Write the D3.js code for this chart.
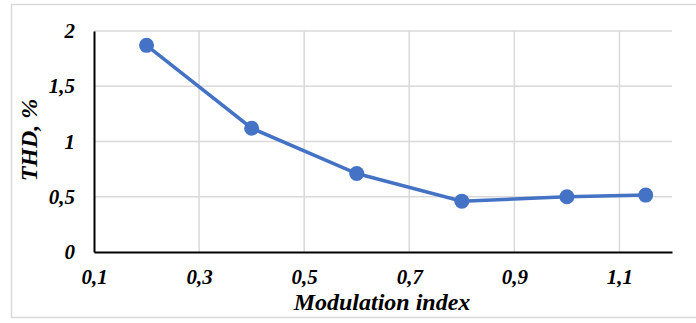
<!DOCTYPE html>
<html>
<head>
<meta charset="utf-8">
<script src="https://cdn.jsdelivr.net/npm/d3@7"></script>
<style>
  body { margin: 0; background: #fff; }
  svg text { font-family: "Liberation Serif", "Times New Roman", serif; font-weight: bold; font-style: italic; }
</style>
</head>
<body>
<div id="chart"></div>
<script>
// data
var modIndex = [0.2, 0.4, 0.6, 0.8, 1.0, 1.15]
var thd = [1.87, 1.12, 0.71, 0.46, 0.50, 0.515]
var xTicks = [0.1, 0.3, 0.5, 0.7, 0.9, 1.1]
var yTicks = [0, 0.5, 1, 1.5, 2]

var dims = {
    width: 696,
    height: 323,
    margin: {top: 31, right: 24, bottom: 71, left: 94}
}
var plotW = dims.width - dims.margin.left - dims.margin.right
var plotH = dims.height - dims.margin.top - dims.margin.bottom

var svg = d3.select("#chart")
    .append("svg")
    .attr("width", dims.width)
    .attr("height", dims.height)

// outer frame
svg.append("rect")
    .attr("x", 11.5).attr("y", 4.5)
    .attr("width", 700).attr("height", 313)
    .attr("fill", "none")
    .attr("stroke", "#d9d9d9")
    .attr("stroke-width", 1.5)

var g = svg.append("g")
    .attr("transform", `translate(${dims.margin.left},${dims.margin.top})`)

var x = d3.scaleLinear().domain([0.1, 1.2]).range([0, plotW])
var y = d3.scaleLinear().domain([0, 2]).range([plotH, 0])

var fmt = d => String(d).replace(".", ",")

// gridlines
g.append("g")
    .selectAll("line")
    .data(yTicks.filter(d => d > 0))
    .enter()
    .append("line")
    .attr("x1", 0).attr("x2", plotW)
    .attr("y1", d => y(d)).attr("y2", d => y(d))
    .attr("stroke", "#d9d9d9").attr("stroke-width", 1.5)

g.append("g")
    .selectAll("line")
    .data(xTicks.filter(d => d > 0.1))
    .enter()
    .append("line")
    .attr("x1", d => x(d)).attr("x2", d => x(d))
    .attr("y1", 0).attr("y2", plotH)
    .attr("stroke", "#d9d9d9").attr("stroke-width", 1.5)

// axes
var xAxis = g.append("g")
    .attr("transform", `translate(0,${plotH})`)
    .call(d3.axisBottom(x).tickValues(xTicks).tickFormat(fmt).tickSize(0).tickPadding(17))
xAxis.attr("font-family", null).attr("font-size", null)
xAxis.select(".domain").attr("stroke", "#000").attr("stroke-width", 2)
xAxis.selectAll("text").attr("font-size", 21).attr("fill", "#000")

var yAxis = g.append("g")
    .call(d3.axisLeft(y).tickValues(yTicks).tickFormat(fmt).tickSize(0).tickPadding(19))
yAxis.attr("font-family", null).attr("font-size", null)
yAxis.select(".domain").attr("stroke", "#000").attr("stroke-width", 2)
yAxis.selectAll("text").attr("font-size", 21).attr("fill", "#000")

// line + markers
var pts = modIndex.map((d, i) => ({x: d, y: thd[i]}))

g.append("path")
    .datum(pts)
    .attr("fill", "none")
    .attr("stroke", "#4472C4")
    .attr("stroke-width", 3.5)
    .attr("d", d3.line().x(d => x(d.x)).y(d => y(d.y)))

g.selectAll("circle")
    .data(pts)
    .enter()
    .append("circle")
    .attr("cx", d => x(d.x))
    .attr("cy", d => y(d.y))
    .attr("r", 7.5)
    .attr("fill", "#4472C4")

// axis titles
svg.append("text")
    .attr("x", 382).attr("y", 310)
    .attr("text-anchor", "middle")
    .attr("font-size", 24)
    .text("Modulation index")

svg.append("text")
    .attr("transform", "translate(37,140) rotate(-90)")
    .attr("text-anchor", "middle")
    .attr("font-size", 24)
    .text("THD, %")
</script>
</body>
</html>
